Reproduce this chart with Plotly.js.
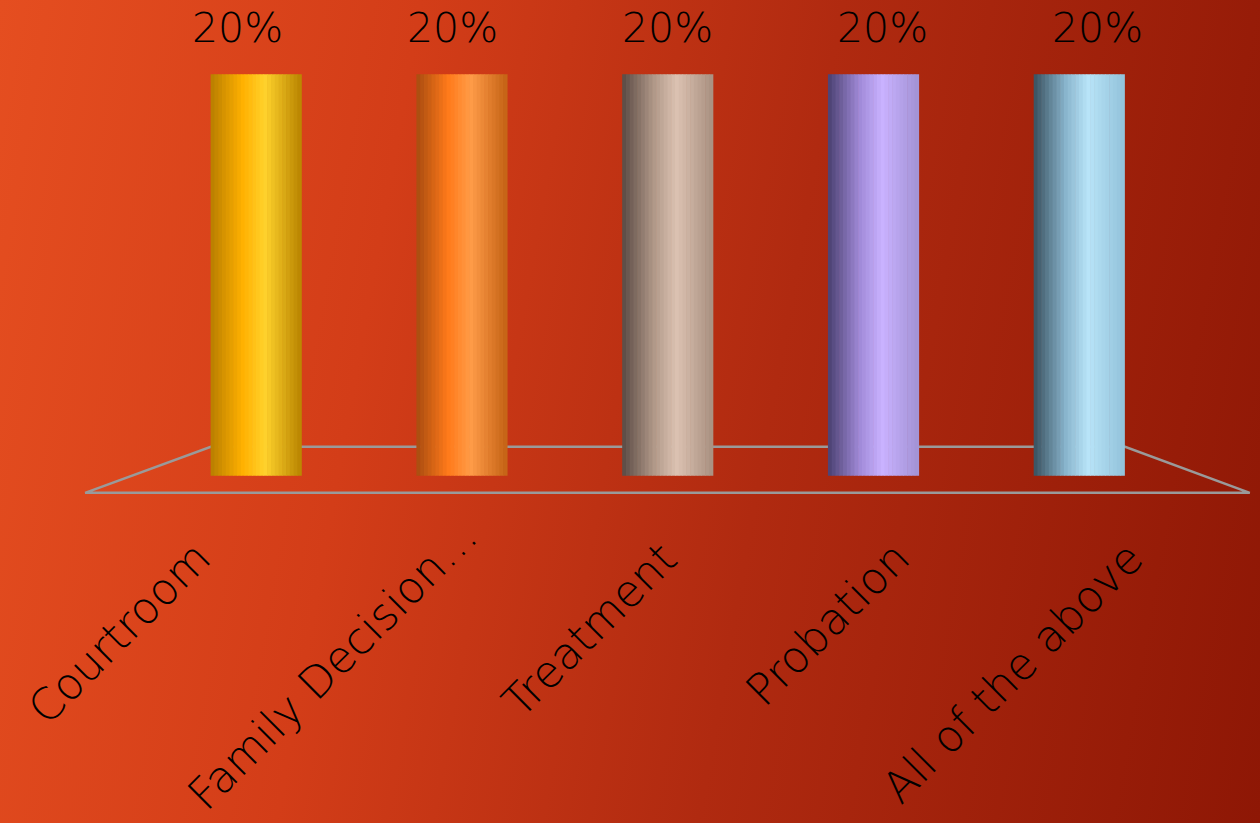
<!DOCTYPE html>
<html>
<head>
<meta charset="utf-8">
<script src="https://cdn.plot.ly/plotly-3.0.1.min.js"></script>
<style>
html,body{margin:0;padding:0;width:1260px;height:823px;overflow:hidden;}
body{background:linear-gradient(100deg,#E54E20 0%,#D33D18 30%,#B02A10 60%,#8E1705 100%);}
#chart{width:1260px;height:823px;}
</style>
</head>
<body>
<div id="chart"></div>
<script>
// ---- data ----
const categories = ["Courtroom", "Family Decision…", "Treatment", "Probation", "All of the above"];
const values = [20, 20, 20, 20, 20];
const valueLabels = ["20%", "20%", "20%", "20%", "20%"];

// ---- style: cylinder shading colours per bar (left edge, body, highlight, right edge) ----
const shades = [
  ["#B87E00", "#FFB000", "#FFD22C", "#B88400"],
  ["#A84C10", "#FF7A1A", "#FF9C48", "#C46214"],
  ["#5A4A44", "#B09888", "#DCC2B2", "#A89080"],
  ["#4A4070", "#A08AD8", "#C9B2FF", "#A292D4"],
  ["#38505E", "#88B4CC", "#B8E4F8", "#92C2DA"]
];
function hex(c){return [parseInt(c.slice(1,3),16),parseInt(c.slice(3,5),16),parseInt(c.slice(5,7),16)];}
function mix(a,b,t){const A=hex(a),B=hex(b);return "rgb("+A.map((v,i)=>Math.round(v+(B[i]-v)*t)).join(",")+")";}
function shadeAt(s,t){
  if(t<0.35) return mix(s[0],s[1],t/0.35);
  if(t<0.6) return mix(s[1],s[2],(t-0.35)/0.25);
  return mix(s[2],s[3],(t-0.6)/0.4);
}
const barW = 0.44, N = 24;
const traces = [];
for(let k=0;k<N;k++){
  const t=(k+0.5)/N;
  traces.push({
    type:"bar", x:categories, y:values,
    width: categories.map(()=>barW/N+0.003),
    offset: categories.map(()=>-barW/2 + k*barW/N),
    marker:{color: shades.map(s=>shadeAt(s,t)), line:{width:0}},
    hoverinfo:"skip", showlegend:false
  });
}

const FONT = "DejaVu Sans";
// floor (3D frame) in axis units
const FRONT_L = -0.83, FRONT_R = 4.83, BACK_L = -0.219, BACK_R = 4.224, FRONT_Y = -0.85, BACK_Y = 1.44;

const annotations = categories.map((c,i)=>({
  x:c, y:values[i], text:valueLabels[i], showarrow:false,
  yanchor:"bottom", yshift:20, xshift:(i-2)*9.2,
  font:{family:FONT, size:41, color:"#000", weight:300}
}));
// category labels placed along the front edge of the floor (perspective)
categories.forEach((c,i)=>{
  const trailingEllipsis = c.endsWith("…");
  annotations.push({
    x: FRONT_L + (i+0.5)*(FRONT_R-FRONT_L)/categories.length, y:-3,
    xref:"x", yref:"y", text:c, showarrow:false, textangle:-45,
    xanchor:"right", yanchor:"top", xshift: trailingEllipsis ? 56 : 22, yshift: trailingEllipsis ? 29 : 7,
    font:{family:FONT, size:44, color:"#000", weight:300}
  });
});

const layout = {
  width:1260, height:823,
  paper_bgcolor:"rgba(0,0,0,0)", plot_bgcolor:"rgba(0,0,0,0)",
  margin:{l:81, r:2, t:34, b:287},
  barmode:"overlay",
  showlegend:false,
  xaxis:{range:[-0.85,4.87], showgrid:false, zeroline:false, showline:false, ticks:"",
         showticklabels:false, fixedrange:true},
  yaxis:{range:[-3,22], visible:false, fixedrange:true},
  shapes:[{
    type:"path", layer:"below", xref:"x", yref:"y",
    path:`M ${FRONT_L},${FRONT_Y} L ${FRONT_R},${FRONT_Y} L ${BACK_R},${BACK_Y} L ${BACK_L},${BACK_Y} Z`,
    line:{color:"#9A9A9A", width:2.5}, fillcolor:"rgba(0,0,0,0)"
  }],
  annotations:annotations
};
Plotly.newPlot("chart", traces, layout, {displayModeBar:false, staticPlot:true});
</script>
</body>
</html>
